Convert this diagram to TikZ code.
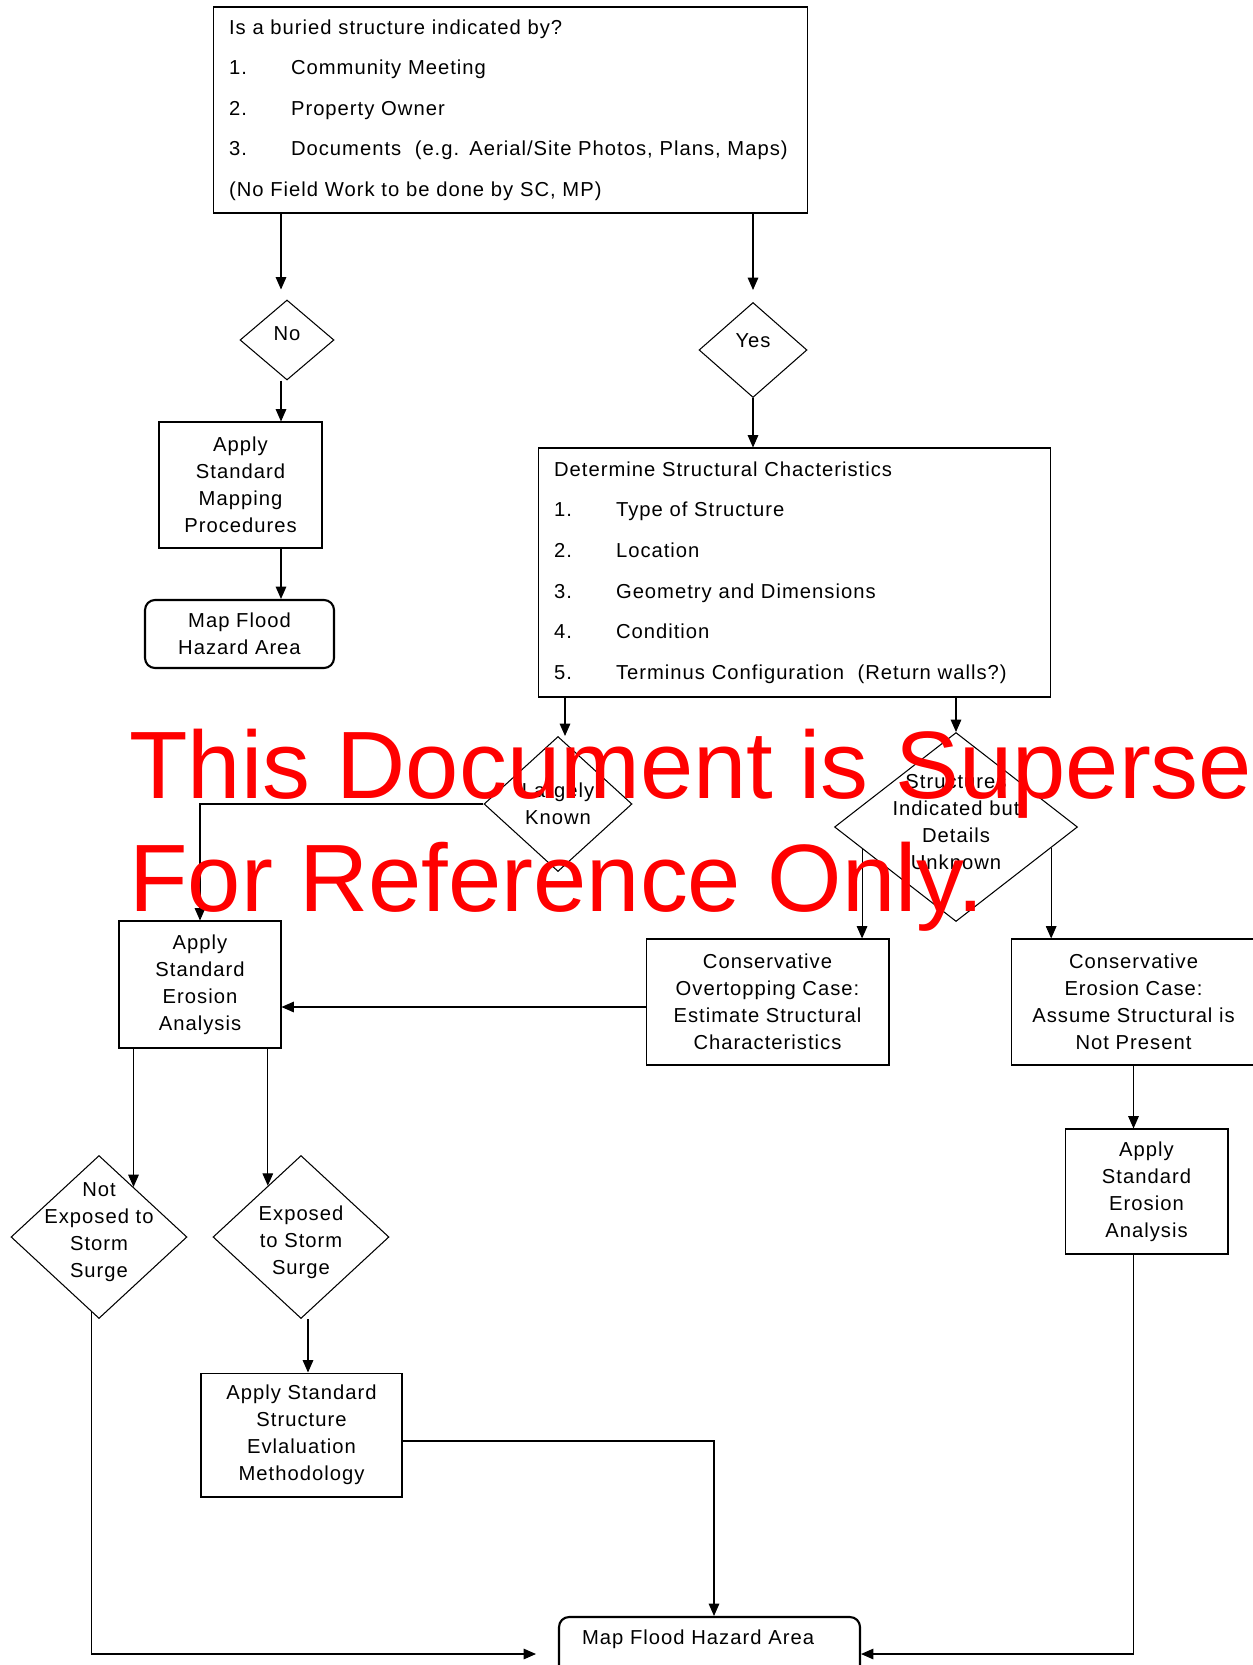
\documentclass[tikz,border=0pt]{standalone}
\usepackage{fontspec}
\setmainfont{Liberation Sans}
\newfontfamily\chartfont{Liberation Sans}[LetterSpace=5]
\usetikzlibrary{arrows.meta, shapes.geometric, calc}
\tikzset{
    box/.style={draw, line width=0.6pt, align=center, inner sep=0pt,
        font=\chartfont\fontsize{11.5}{15.3}\selectfont},
    listbox/.style={draw, line width=0.6pt, align=left, inner xsep=0.32cm, inner ysep=0pt,
        font=\chartfont\fontsize{11.5}{23.1}\selectfont},
    endbox/.style={box, rounded corners=0.2cm, line width=1.2pt},
    dia/.style={draw, diamond, line width=0.6pt, inner sep=0pt},
    dlbl/.style={align=center, inner sep=0pt, font=\chartfont\fontsize{11.5}{15.3}\selectfont},
    arr/.style={-{Triangle[length=7pt,width=6pt]}, line width=0.6pt},
    stamp/.style={text=red, inner sep=0pt, font=\fontsize{54.5}{60}\selectfont}
}
\newcommand{\listno}[1]{\makebox[1.24cm][l]{#1}}

\begin{document}
\begin{tikzpicture}[x=0.02cm, y=-0.02cm]

\fill[white] (0,0) rectangle (1252,1665);
\useasboundingbox (0,0) rectangle (1252,1665);

% question
\node[listbox, text width=11.26cm, minimum height=4.12cm] (top) at (510.5,110) {%
Is a buried structure indicated by?\\
\listno{1.}Community Meeting\\
\listno{2.}Property Owner\\
\listno{3.}Documents\ \ (e.g. Aerial/Site Photos, Plans, Maps)\\
(No Field Work to be done by SC, MP)};

\node[dia, minimum width=1.88cm, minimum height=1.6cm,
    label={[dlbl, yshift=0.12cm]center:No}] (no) at (287,340) {};
\node[dia, minimum width=2.16cm, minimum height=1.9cm,
    label={[dlbl, yshift=0.18cm]center:Yes}] (yes) at (753,350) {};

\node[box, minimum width=3.26cm, minimum height=2.52cm] (asm) at (240.5,485)
    {Apply\\Standard\\Mapping\\Procedures};
\node[endbox, minimum width=3.78cm, minimum height=1.36cm] (mfa) at (239.5,634)
    {Map Flood\\Hazard Area};

\node[listbox, text width=9.62cm, minimum height=4.98cm] (det) at (794.5,572.5) {%
Determine Structural Chacteristics\\
\listno{1.}Type of Structure\\
\listno{2.}Location\\
\listno{3.}Geometry and Dimensions\\
\listno{4.}Condition\\
\listno{5.}Terminus Configuration\ \ (Return walls?)};

\node[dia, minimum width=2.96cm, minimum height=2.7cm,
    label={[dlbl]center:Largely\\Known}] (lk) at (558,804) {};
\node[dia, minimum width=4.86cm, minimum height=3.78cm,
    label={[dlbl, yshift=0.1cm]center:Structures\\Indicated but\\Details\\Unknown}] (sid) at (956,827) {};

\node[box, minimum width=3.24cm, minimum height=2.54cm] (ase) at (200,984.5)
    {Apply\\Standard\\Erosion\\Analysis};
\node[box, minimum width=4.86cm, minimum height=2.52cm] (cot) at (767.5,1002)
    {Conservative\\Overtopping Case:\\Estimate Structural\\Characteristics};
\node[box, minimum width=4.9cm, minimum height=2.52cm] (ceo) at (1133.5,1002)
    {Conservative\\Erosion Case:\\Assume Structural is\\Not Present};
\node[box, minimum width=3.26cm, minimum height=2.5cm] (asr) at (1146.5,1191.5)
    {Apply\\Standard\\Erosion\\Analysis};

\node[dia, minimum width=3.52cm, minimum height=3.26cm,
    label={[dlbl, yshift=0.1cm]center:Not\\Exposed to\\Storm\\Surge}] (nes) at (99,1237) {};
\node[dia, minimum width=3.52cm, minimum height=3.26cm,
    label={[dlbl, yshift=-0.1cm]center:Exposed\\to Storm\\Surge}] (exs) at (301,1237) {};

\node[box, minimum width=4.02cm, minimum height=2.48cm] (asse) at (301.5,1435)
    {Apply Standard\\Structure\\Evlaluation\\Methodology};
\node[endbox, align=left, inner xsep=0.46cm, text width=5.1cm, minimum height=1.48cm,
    text depth=0.68cm] (mfb) at (709.5,1654)
    {Map Flood Hazard Area};

% connectors
\coordinate (noin) at ([xshift=-0.12cm]no.north);
\coordinate (noout) at ([xshift=-0.12cm]no.south);
\draw[arr, shorten >=0.2cm] (top.south -| noin) -- (noin);
\draw[arr, shorten >=0.24cm] (top.south -| yes.north) -- (yes.north);
\draw[arr] (noout) -- (asm.north -| noout);
\draw[arr] (asm.south -| noout) -- (mfa.north -| noout);
\draw[arr] (yes.south) -- (det.north -| yes.south);

\coordinate (lkin) at ([xshift=0.14cm]lk.north);
\draw[arr] (det.south -| lkin) -- (lkin);
\draw[arr] (det.south -| sid.north) -- (sid.north);
\draw[arr] (lk.west) -| (ase.north);

\coordinate (sidl) at ($(sid.west)!0.23!(sid.south)$);
\coordinate (sidr) at ($(sid.east)!0.22!(sid.south)$);
\draw[arr] (sidl) -- (cot.north -| sidl);
\draw[arr] (sidr) -- (ceo.north -| sidr);
\coordinate (cotout) at ([yshift=-0.1cm]cot.west);
\draw[arr] (cotout) -- (ase.east |- cotout);
\draw[arr] (ceo.south) -- (asr.north -| ceo.south);
\draw[arr] (asr.south -| ceo.south) |- (mfb.east);

\coordinate (nesin) at ($(nes.north)!0.39!(nes.east)$);
\coordinate (exsin) at ($(exs.north)!0.375!(exs.west)$);
\draw[arr] (ase.south -| nesin) -- (nesin);
\draw[arr] (ase.south -| exsin) -- (exsin);

\coordinate (nesout) at ($(nes.south)!0.08!(nes.west)$);
\draw[arr, shorten >=0.44cm] (nesout) |- (mfb.west);
\coordinate (exsout) at ([xshift=0.14cm]exs.south);
\draw[arr] (exsout) -- (asse.north -| exsout);
\coordinate (asseout) at ([yshift=-0.12cm]asse.east);
\coordinate (mfbin) at ([xshift=0.09cm]mfb.north);
\draw[arr] (asseout) -| (mfbin);

% stamp over the chart
\begin{scope}
\clip (0,0) rectangle (1252,1665);
\node[stamp, anchor=base west] (stampa) at (129,798) {This Document is Superseded};
\node[stamp, anchor=base west] (stampb) at (129,911) {For Reference Only.};
\end{scope}

\end{tikzpicture}
\end{document}
